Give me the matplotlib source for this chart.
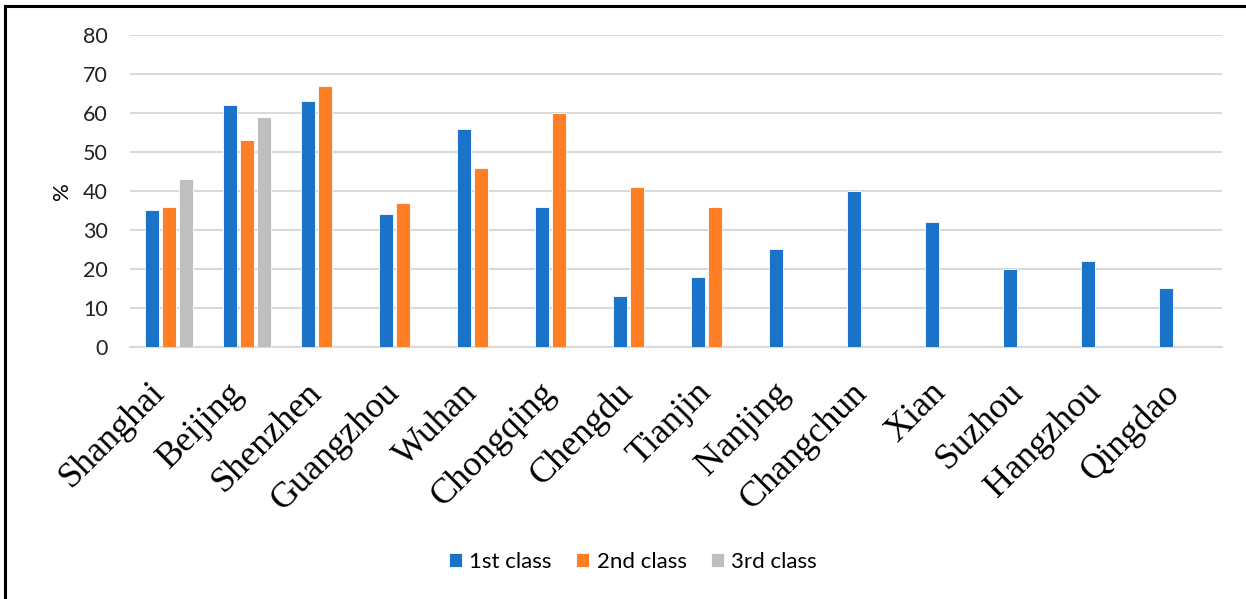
import numpy as np
import matplotlib
matplotlib.use("Agg")
import matplotlib.pyplot as plt
import matplotlib.transforms as mtransforms
from matplotlib.lines import Line2D

cities = ["Shanghai", "Beijing", "Shenzhen", "Guangzhou", "Wuhan", "Chongqing",
          "Chengdu", "Tianjin", "Nanjing", "Changchun", "Xian", "Suzhou",
          "Hangzhou", "Qingdao"]
first_class = [35, 62, 63, 34, 56, 36, 13, 18, 25, 40, 32, 20, 22, 15]
second_class = [36, 53, 67, 37, 46, 60, 41, 36, np.nan, np.nan, np.nan, np.nan, np.nan, np.nan]
third_class = [43, 59, np.nan, np.nan, np.nan, np.nan, np.nan, np.nan, np.nan, np.nan,
               np.nan, np.nan, np.nan, np.nan]
series_names = ["1st class", "2nd class", "3rd class"]
yticks = [0, 10, 20, 30, 40, 50, 60, 70, 80]

colors = ["#1A73C8", "#FF7F27", "#BFBFBF"]

fig = plt.figure(figsize=(12.46, 5.99), dpi=100)
ax = fig.add_axes([0.1043, 0.4207, 0.8764, 0.5209])

x = np.arange(len(cities))
offsets = [-0.222, 0.0, 0.222]
width = 0.18
handles = []
for vals, off, col, name in zip([first_class, second_class, third_class], offsets, colors, series_names):
    b = ax.bar(x + off, vals, width=width, color=col, edgecolor="white",
               linewidth=0.6, label=name, zorder=3)
    handles.append(b)

ax.set_xlim(-0.5, len(cities) - 0.5)
ax.set_ylim(0, 80)
ax.set_yticks(yticks)
ax.yaxis.grid(True, color="#D9D9D9", linewidth=1.5, zorder=0)
ax.set_axisbelow(True)
for s in ["top", "right", "left"]:
    ax.spines[s].set_visible(False)
ax.spines["bottom"].set_color("#D9D9D9")
ax.spines["bottom"].set_linewidth(1.5)
ax.tick_params(axis="both", length=0)
ax.tick_params(axis="y", pad=16)
for lab in ax.get_yticklabels():
    lab.set_fontfamily("Lato")
    lab.set_fontsize(15.5)
    lab.set_color("#222222")

ax.set_xticks(x)
ax.set_xticklabels(cities, rotation=45, ha="right", va="top",
                   fontfamily="Liberation Serif", fontsize=26)
ax.tick_params(axis="x", pad=21)
shift = mtransforms.ScaledTranslation(3 / 100, 0, fig.dpi_scale_trans)
for lab in ax.get_xticklabels():
    lab.set_transform(lab.get_transform() + shift)

ax.set_ylabel("%", fontfamily="Lato", fontsize=16, labelpad=8)

fig.legend(handles=handles, labels=series_names, loc="center",
           bbox_to_anchor=(633 / 1246, 1 - 562 / 599), ncol=3, frameon=False,
           prop={"family": "Lato", "size": 16}, handlelength=0.6,
           handleheight=0.6, handletextpad=0.32, columnspacing=1.1)

# frame lines on the left and top edges
fig.add_artist(Line2D([5 / 1246, 5 / 1246], [0, 1 - 6 / 599], transform=fig.transFigure,
                      color="black", linewidth=2.2))
fig.add_artist(Line2D([5 / 1246, 1], [1 - 6 / 599, 1 - 6 / 599], transform=fig.transFigure,
                      color="black", linewidth=2.2))

fig.savefig("out.png", dpi=100)
